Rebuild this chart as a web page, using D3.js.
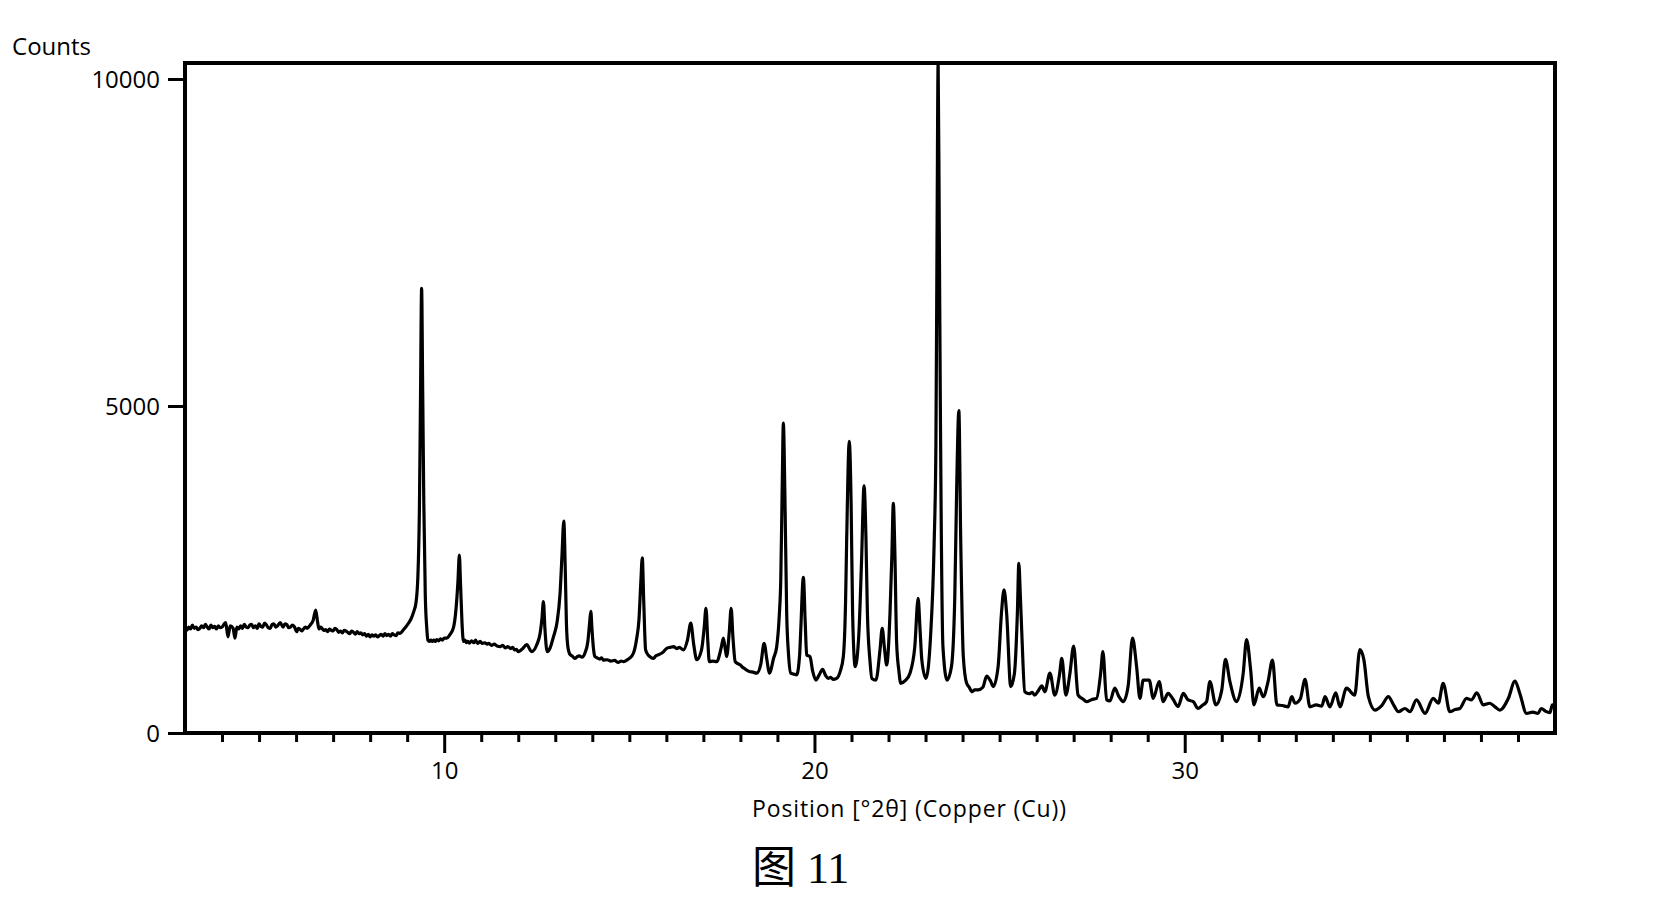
<!DOCTYPE html>
<html>
<head>
<meta charset="utf-8">
<script src="https://cdn.jsdelivr.net/npm/d3@7"></script>
<style>
  html, body { margin: 0; padding: 0; background: #fff; }
  svg { display: block; }
  text { font-family: "Open Sans", "DejaVu Sans", sans-serif; fill: #000; }
</style>
</head>
<body>
<svg id="chart" width="1670" height="922"></svg>
<script>
// ---- data ----
const positions = [
  3.00,3.05,3.10,3.15,3.20,3.25,3.30,3.35,3.40,3.45,3.50,3.55,3.60,3.65,3.70,3.75,3.80,3.85,3.90,3.95,
  4.00,4.05,4.10,4.16,4.22,4.30,4.35,4.40,4.45,4.50,4.55,4.60,4.65,4.70,4.75,4.80,4.85,4.90,4.95,5.00,
  5.05,5.10,5.15,5.20,5.25,5.30,5.35,5.40,5.45,5.50,5.57,5.65,5.70,5.75,5.80,5.85,5.90,5.95,6.02,6.06,
  6.10,6.15,6.20,6.25,6.30,6.38,6.46,6.53,6.58,6.62,6.66,6.70,6.75,6.80,6.85,6.90,6.95,7.00,7.05,7.10,
  7.15,7.20,7.25,7.30,7.37,7.45,7.50,7.55,7.60,7.65,7.70,7.75,7.80,7.85,7.90,7.95,8.00,8.05,8.10,8.15,
  8.20,8.25,8.30,8.35,8.40,8.45,8.50,8.55,8.60,8.65,8.70,8.75,8.81,8.90,9.00,9.10,9.18,9.24,9.29,9.33,
  9.36,9.39,9.42,9.45,9.49,9.53,9.56,9.60,9.64,9.68,9.72,9.76,9.80,9.85,9.90,9.95,10.00,10.07,10.15,10.25,
  10.32,10.37,10.41,10.44,10.48,10.52,10.56,10.60,10.64,10.68,10.74,10.80,10.85,10.90,10.97,11.03,11.10,11.15,11.20,11.28,
  11.35,11.43,11.51,11.58,11.65,11.72,11.80,11.85,11.90,11.95,12.00,12.10,12.23,12.36,12.50,12.59,12.64,12.68,12.72,12.78,
  12.86,12.95,13.05,13.13,13.18,13.23,13.27,13.30,13.34,13.40,13.45,13.53,13.60,13.65,13.72,13.80,13.88,13.93,13.96,13.99,
  14.03,14.07,14.13,14.20,14.25,14.30,14.40,14.50,14.60,14.70,14.78,14.84,14.92,15.00,15.11,15.20,15.26,15.31,15.35,15.39,
  15.44,15.50,15.55,15.65,15.72,15.80,15.90,16.01,16.10,16.20,16.28,16.35,16.46,16.57,16.66,16.74,16.82,16.95,17.02,17.07,
  17.12,17.16,17.25,17.36,17.48,17.54,17.60,17.63,17.70,17.75,17.80,17.86,17.93,18.00,18.05,18.10,18.17,18.24,18.34,18.44,
  18.55,18.64,18.72,18.78,18.90,18.98,19.05,19.09,19.13,19.16,19.20,19.25,19.30,19.36,19.44,19.52,19.60,19.63,19.70,19.75,
  19.79,19.88,19.95,20.04,20.12,20.22,20.30,20.37,20.44,20.50,20.60,20.70,20.78,20.84,20.87,20.94,20.99,21.03,21.10,21.20,
  21.27,21.34,21.39,21.43,21.50,21.55,21.66,21.77,21.83,21.89,21.95,22.04,22.09,22.13,22.17,22.22,22.28,22.33,22.45,22.58,
  22.71,22.80,22.85,22.90,23.01,23.14,23.23,23.28,23.31,23.34,23.37,23.40,23.42,23.47,23.58,23.70,23.79,23.84,23.90,23.95,
  24.02,24.11,24.18,24.25,24.33,24.42,24.55,24.65,24.75,24.83,24.96,25.05,25.12,25.19,25.30,25.40,25.48,25.52,25.56,25.60,
  25.68,25.80,25.88,25.95,26.05,26.14,26.22,26.36,26.49,26.62,26.68,26.79,26.90,27.00,27.12,27.25,27.35,27.48,27.62,27.73,
  27.79,27.89,27.98,28.11,28.22,28.34,28.47,28.59,28.70,28.79,28.88,29.04,29.15,29.31,29.42,29.55,29.68,29.82,29.96,30.09,
  30.23,30.36,30.47,30.59,30.68,30.84,31.00,31.10,31.22,31.40,31.58,31.67,31.78,31.87,32.01,32.12,32.25,32.37,32.49,32.64,
  32.79,32.89,32.98,33.12,33.25,33.38,33.55,33.70,33.79,33.92,34.08,34.19,34.37,34.59,34.73,34.84,34.96,35.14,35.32,35.50,
  35.64,35.77,35.95,36.08,36.26,36.49,36.71,36.85,36.98,37.16,37.30,37.43,37.61,37.74,37.89,38.06,38.24,38.38,38.51,38.74,
  38.92,39.05,39.23,39.40,39.54,39.63,39.75,39.86,39.93,40.00
];
const counts = [
  1610,1570,1620,1590,1650,1600,1620,1580,1600,1640,1610,1660,1620,1590,1650,1610,1630,1590,1640,1610,
  1620,1660,1690,1470,1640,1600,1450,1620,1590,1640,1600,1660,1620,1610,1650,1660,1610,1640,1600,1670,
  1630,1620,1680,1650,1610,1600,1660,1670,1620,1640,1690,1620,1670,1660,1610,1620,1650,1630,1550,1600,
  1590,1560,1590,1620,1600,1650,1720,1880,1700,1590,1620,1600,1570,1580,1550,1590,1570,1560,1600,1580,
  1540,1560,1530,1570,1550,1520,1560,1540,1510,1550,1520,1530,1500,1520,1480,1510,1470,1500,1480,1500,
  1470,1490,1510,1480,1520,1490,1510,1480,1520,1500,1490,1530,1524,1580,1650,1740,1860,2000,2400,3400,
  5100,6800,5200,3500,2100,1600,1420,1400,1420,1400,1420,1400,1430,1410,1440,1420,1450,1450,1500,1610,
  1900,2300,2720,2300,1700,1400,1420,1380,1400,1375,1410,1380,1420,1370,1400,1370,1380,1360,1370,1340,
  1360,1330,1320,1340,1300,1320,1290,1310,1270,1280,1245,1280,1350,1245,1350,1520,1750,2010,1600,1245,
  1300,1470,1700,2140,2700,3240,2500,1700,1320,1200,1180,1140,1170,1180,1160,1220,1400,1700,1860,1600,
  1300,1170,1150,1130,1150,1115,1120,1100,1110,1080,1100,1090,1110,1140,1220,1450,1730,2300,2680,2000,
  1270,1200,1170,1140,1180,1200,1230,1295,1310,1320,1290,1310,1270,1420,1680,1350,1120,1270,1600,1905,
  1400,1090,1100,1090,1300,1450,1250,1170,1550,1905,1450,1090,1060,1040,1010,990,960,940,930,915,
  1050,1370,1100,915,1150,1320,1800,2340,3800,4740,3700,1830,1200,915,900,890,1200,1575,2380,1700,
  1195,1165,950,810,880,975,880,835,850,820,835,950,1170,2000,2950,4460,3500,1830,1015,1525,
  2600,3780,3000,1830,1100,835,810,1270,1600,1300,1040,1830,2700,3510,2800,1370,950,760,800,915,
  1320,2060,1600,1115,835,1525,2850,4400,7500,10240,7800,5000,3460,1320,810,1015,2085,3720,4930,2950,
  1170,760,700,630,660,660,700,870,800,710,1015,1830,2190,1830,710,910,1830,2595,2100,1525,
  630,600,620,580,650,720,630,915,580,900,1140,580,915,1330,580,520,480,510,530,915,
  1245,505,490,685,560,480,710,1450,1015,530,810,810,530,785,480,605,520,405,605,505,
  480,375,420,480,785,430,655,1125,785,480,915,1430,965,430,685,555,785,1115,430,420,
  400,555,455,520,820,400,430,410,555,400,615,400,685,580,1275,1115,555,350,420,555,
  430,325,375,325,505,300,530,455,760,325,360,375,530,505,615,430,455,400,350,530,
  795,605,300,320,300,375,330,310,430,420
];
const yTickValues = [0, 5000, 10000];
const xMajorTicks = [10, 20, 30];
const xMinorTicks = [4,5,6,7,8,9,11,12,13,14,15,16,17,18,19,21,22,23,24,25,26,27,28,29,31,32,33,34,35,36,37,38,39];
const yLabel = "Counts";
const xLabel = "Position [°2θ] (Copper (Cu))";
const figCaption = "图 11";

// ---- layout ----
const svg = d3.select("#chart");
const plot = { left: 185, right: 1555, top: 63, bottom: 733 };

const x = d3.scaleLinear().domain([3, 40]).range([plot.left, plot.right]);
const y = d3.scaleLinear().domain([0, 10245]).range([plot.bottom, plot.top]);

const data = positions.map((p, i) => ({ p, c: counts[i] }));

svg.append("defs").append("clipPath").attr("id", "clip")
  .append("rect").attr("x", plot.left).attr("y", plot.top)
  .attr("width", plot.right - plot.left).attr("height", plot.bottom - plot.top);

// data line
const line = d3.line().x(d => x(d.p)).y(d => y(d.c)).curve(d3.curveMonotoneX);
svg.append("path").datum(data)
  .attr("clip-path", "url(#clip)")
  .attr("d", line)
  .attr("fill", "none")
  .attr("stroke", "#000")
  .attr("stroke-width", 3.2)
  .attr("stroke-linejoin", "round");

// frame
svg.append("rect")
  .attr("x", plot.left).attr("y", plot.top)
  .attr("width", plot.right - plot.left).attr("height", plot.bottom - plot.top)
  .attr("fill", "none").attr("stroke", "#000").attr("stroke-width", 4);

// y axis
const yAxis = svg.append("g").attr("transform", `translate(${plot.left - 2},0)`)
  .call(d3.axisLeft(y).tickValues(yTickValues).tickSize(15).tickPadding(8).tickFormat(d => String(d)));
yAxis.select(".domain").remove();
yAxis.selectAll("line").attr("stroke", "#000").attr("stroke-width", 3);
yAxis.selectAll("text").attr("font-size", 24).attr("font-family", "'Open Sans', sans-serif").attr("dy", "0.36em");

// x axis minor
const xMinor = svg.append("g").attr("transform", `translate(0,${plot.bottom + 2})`)
  .call(d3.axisBottom(x).tickValues(xMinorTicks).tickSize(7).tickFormat(""));
xMinor.select(".domain").remove();
xMinor.selectAll("line").attr("stroke", "#000").attr("stroke-width", 3);

// x axis major
const xMajor = svg.append("g").attr("transform", `translate(0,${plot.bottom + 2})`)
  .call(d3.axisBottom(x).tickValues(xMajorTicks).tickSize(18).tickFormat(d => String(d)));
xMajor.select(".domain").remove();
xMajor.selectAll("line").attr("stroke", "#000").attr("stroke-width", 3);
xMajor.selectAll("text").attr("font-size", 24).attr("font-family", "'Open Sans', sans-serif")
  .attr("y", 44).attr("dy", 0);

// labels
svg.append("text").attr("x", 12).attr("y", 55).attr("font-size", 24)
  .attr("textLength", 79).attr("lengthAdjust", "spacing").text(yLabel);
svg.append("text").attr("x", 752).attr("y", 817).attr("font-size", 23)
  .attr("textLength", 314).attr("lengthAdjust", "spacing").text(xLabel);
svg.append("text").attr("x", 752).attr("y", 883).attr("font-size", 44)
  .style("font-family", "'Liberation Serif', 'Noto Sans CJK SC', serif").text(figCaption);
</script>
</body>
</html>
